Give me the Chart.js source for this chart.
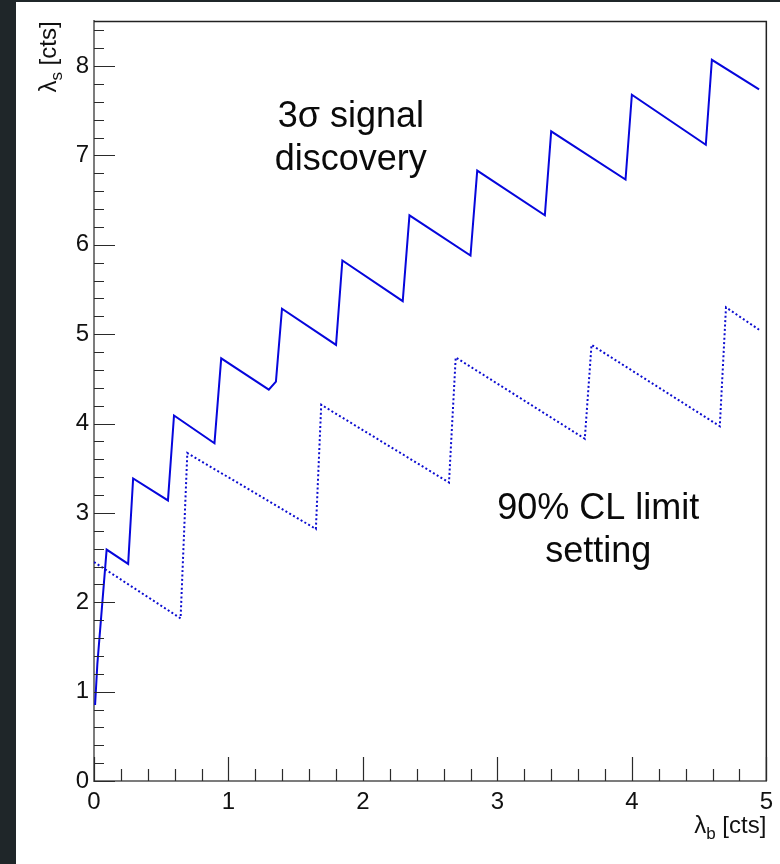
<!DOCTYPE html>
<html>
<head>
<meta charset="utf-8">
<script src="https://cdn.jsdelivr.net/npm/chart.js@4"></script>
<style>
    html, body { margin: 0; padding: 0; background: #1f2629; }
    #panel { position: absolute; left: 16px; top: 2px; width: 764px; height: 862px; background: #fff; }
    canvas { display: block; }
</style>
</head>
<body>
<div id="panel"><canvas id="chart" width="764" height="862"></canvas></div>
<script>
// 3 sigma discovery curve (solid)
const discX = [0.008, 0.025, 0.094, 0.254, 0.291, 0.55, 0.595, 0.896, 0.946, 1.30, 1.353, 1.398, 1.80, 1.847, 2.296, 2.346, 2.80, 2.85, 3.353, 3.40, 3.953, 4.0, 4.55, 4.595, 4.946];
const discY = [0.85, 1.31, 2.59, 2.43, 3.385, 3.14, 4.09, 3.78, 4.73, 4.38, 4.47, 5.285, 4.88, 5.825, 5.37, 6.33, 5.88, 6.83, 6.33, 7.27, 6.73, 7.68, 7.12, 8.07, 7.74];

// 90% CL limit curve (dotted)
const limitX = [0.0, 0.644, 0.694, 1.65, 1.69, 2.64, 2.69, 3.65, 3.70, 4.654, 4.70, 4.946];
const limitY = [2.45, 1.82, 3.67, 2.82, 4.21, 3.34, 4.74, 3.83, 4.88, 3.97, 5.30, 5.05];

const xTicks = [0, 1, 2, 3, 4, 5];
const yTicks = [0, 1, 2, 3, 4, 5, 6, 7, 8];

const FONT = '"Liberation Sans", Arial, Helvetica, sans-serif';

function toPoints(xs, ys) {
    return xs.map((x, i) => ({ x: x, y: ys[i] }));
}

// ROOT style frame: inward ticks, dark top/right border, labels in the plot
const framePlugin = {
    id: 'frame',
    afterDraw(chart) {
        const ctx = chart.ctx;
        const area = chart.chartArea;
        const xs = chart.scales.x;
        const ys = chart.scales.y;
        ctx.save();

        // top and right border
        ctx.strokeStyle = '#222';
        ctx.lineWidth = 1.5;
        ctx.beginPath();
        ctx.moveTo(area.left, area.top);
        ctx.lineTo(area.right, area.top);
        ctx.lineTo(area.right, area.bottom);
        ctx.stroke();

        // inward ticks
        ctx.strokeStyle = '#2a2a2a';
        ctx.lineWidth = 1.2;
        ctx.beginPath();
        for (let i = 0; i <= 25; i++) {
            const v = i * 0.2;
            const px = Math.round(xs.getPixelForValue(v)) + 0.5;
            const len = (i % 5 === 0) ? 24 : 12;
            ctx.moveTo(px, area.bottom);
            ctx.lineTo(px, area.bottom - len);
        }
        for (let i = 0; i <= 42; i++) {
            const v = i * 0.2;
            const py = Math.round(ys.getPixelForValue(v)) + 0.5;
            const len = (i % 5 === 0) ? 21 : 10;
            ctx.moveTo(area.left, py);
            ctx.lineTo(area.left + len, py);
        }
        ctx.stroke();

        // axis titles with subscripts
        ctx.fillStyle = '#111';
        const big = '24px ' + FONT;
        const small = '17px ' + FONT;

        // x title, right aligned under the axis
        ctx.font = big;
        const wL = ctx.measureText('λ').width;
        const wRest = ctx.measureText(' [cts]').width;
        ctx.font = small;
        const wB = ctx.measureText('b').width;
        let x0 = area.right - (wL + wB + wRest);
        const base = area.bottom + 52;
        ctx.textAlign = 'left';
        ctx.textBaseline = 'alphabetic';
        ctx.font = big;
        ctx.fillText('λ', x0, base);
        ctx.font = small;
        ctx.fillText('b', x0 + wL, base + 6);
        ctx.font = big;
        ctx.fillText(' [cts]', x0 + wL + wB, base);

        // y title, rotated, aligned with the top of the axis
        ctx.save();
        ctx.translate(40, area.top);
        ctx.rotate(-Math.PI / 2);
        ctx.font = small;
        const wS = ctx.measureText('s').width;
        let u0 = -(wL + wS + wRest);
        ctx.font = big;
        ctx.fillText('λ', u0, 0);
        ctx.font = small;
        ctx.fillText('s', u0 + wL, 6);
        ctx.font = big;
        ctx.fillText(' [cts]', u0 + wL + wS, 0);
        ctx.restore();

        // annotations
        ctx.font = '36px ' + FONT;
        ctx.textAlign = 'center';
        ctx.fillStyle = '#0a0a0a';
        ctx.fillText('3σ signal', xs.getPixelForValue(1.91), ys.getPixelForValue(7.32));
        ctx.fillText('discovery', xs.getPixelForValue(1.91), ys.getPixelForValue(6.84));
        ctx.fillText('90% CL limit', xs.getPixelForValue(3.75), ys.getPixelForValue(2.93));
        ctx.fillText('setting', xs.getPixelForValue(3.75), ys.getPixelForValue(2.45));

        ctx.restore();
    }
};

const ctx = document.getElementById('chart').getContext('2d');
new Chart(ctx, {
    type: 'scatter',
    data: {
        datasets: [
            {
                label: '3σ signal discovery',
                data: toPoints(discX, discY),
                showLine: true,
                borderColor: '#0606dc',
                borderWidth: 2,
                pointRadius: 0,
                tension: 0,
                fill: false
            },
            {
                label: '90% CL limit setting',
                data: toPoints(limitX, limitY),
                showLine: true,
                borderColor: '#0c0cd0',
                borderWidth: 2,
                borderDash: [2, 2.4],
                pointRadius: 0,
                tension: 0,
                fill: false
            }
        ]
    },
    options: {
        responsive: false,
        animation: false,
        devicePixelRatio: 1,
        layout: { padding: { top: 18, right: 10, left: 0, bottom: 0 } },
        plugins: {
            legend: { display: false },
            tooltip: { enabled: false }
        },
        scales: {
            x: {
                type: 'linear',
                min: 0,
                max: 5,
                afterFit(scale) { scale.height = 83; },
                afterBuildTicks(scale) { scale.ticks = xTicks.map(v => ({ value: v })); },
                grid: { display: false, drawTicks: false },
                border: { display: true, color: '#7c7c7c', width: 2 },
                ticks: {
                    padding: 7,
                    color: '#111',
                    font: { family: FONT, size: 24 },
                    maxRotation: 0
                }
            },
            y: {
                type: 'linear',
                min: 0,
                max: 8.5,
                afterFit(scale) { scale.width = 78; },
                afterBuildTicks(scale) { scale.ticks = yTicks.map(v => ({ value: v })); },
                grid: { display: false, drawTicks: false },
                border: { display: true, color: '#7c7c7c', width: 2 },
                ticks: {
                    padding: 5,
                    color: '#111',
                    font: { family: FONT, size: 24 }
                }
            }
        }
    },
    plugins: [framePlugin]
});
</script>
</body>
</html>
